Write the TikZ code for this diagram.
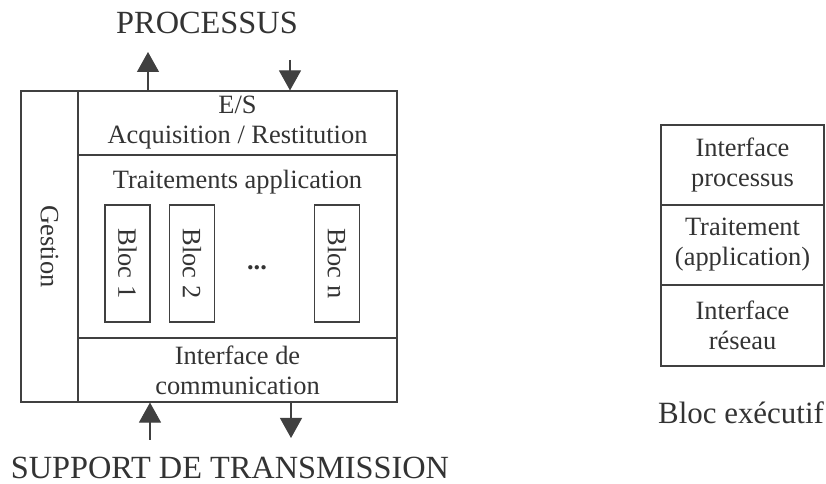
\documentclass[tikz,border=0pt]{standalone}
\usepackage{fontspec}
\setmainfont{Liberation Serif}
\usetikzlibrary{arrows.meta}
\begin{document}
\begin{tikzpicture}[x=0.25mm,y=-0.25mm,
		trait/.style={draw=black!75,line width=0.8pt},
		boite/.style={trait,rectangle,inner sep=0pt,align=center,text=black!80,font=\fontsize{18.8}{21.3}\selectfont},
		texte/.style={text=black!80,align=center,font=\fontsize{18.8}{21.3}\selectfont},
		titre/.style={text=black!80,inner sep=0pt,font=\fontsize{23}{27}\selectfont},
		fleche/.style={trait,-{Triangle[length=5mm,width=5.5mm]}}]
		\useasboundingbox (0,0) rectangle (826,484);
		% titles
		\node[titre] (proc) at (207,23) {PROCESSUS};
		\node[titre] (support) at (230,468) {SUPPORT DE TRANSMISSION};
		% box & columns
		\node[boite,rotate=-90,minimum width=77.75mm,minimum height=14.25mm] (gestion) at (49.5,246.5) {Gestion};
		\node[boite,minimum width=79.75mm,minimum height=16mm] (es) at (237.5,123) {E/S\\Acquisition / Restitution};
		\node[boite,minimum width=79.75mm,minimum height=45.75mm] (trt) at (237.5,246.5) {};
		\node[boite,minimum width=79.75mm,minimum height=16mm] (com) at (237.5,370) {Interface de\\communication};
		\node[texte] (ltrt) at (237.5,182) {Traitements application};
		% blocs
		\node[boite,rotate=-90,minimum width=29.25mm,minimum height=11.25mm] (bloc1) at (127.5,263.5) {Bloc 1};
		\node[boite,rotate=-90,minimum width=29.25mm,minimum height=11.25mm] (bloc2) at (192,263.5) {Bloc 2};
		\node[texte] (pts) at (257,268) {\textbf{...}};
		\node[boite,rotate=-90,minimum width=29.25mm,minimum height=11.25mm] (blocn) at (337,263.5) {Bloc n};
		% arrows
		\coordinate (h1) at (148,52);
		\coordinate (h2) at (290,60);
		\coordinate (b1) at (150,440);
		\coordinate (b2) at (291,438);
		\draw[fleche] (h1 |- es.north) -- (h1);
		\draw[fleche] (h2) -- (h2 |- es.north);
		\draw[fleche] (b1) -- (b1 |- com.south);
		\draw[fleche] (b2 |- com.south) -- (b2);
		% bloc executif
		\node[boite,minimum width=40.75mm,minimum height=20mm] (ip) at (742.5,165) {Interface\\processus};
		\node[boite,minimum width=40.75mm,minimum height=20mm] (ta) at (742.5,245) {Traitement\\(application)};
		\node[boite,minimum width=40.75mm,minimum height=20.25mm] (ir) at (742.5,325.5) {Interface\\réseau};
		\node[titre,font=\fontsize{22}{26}\selectfont] (exec) at (741,413) {Bloc exécutif};
	\end{tikzpicture}
\end{document}
